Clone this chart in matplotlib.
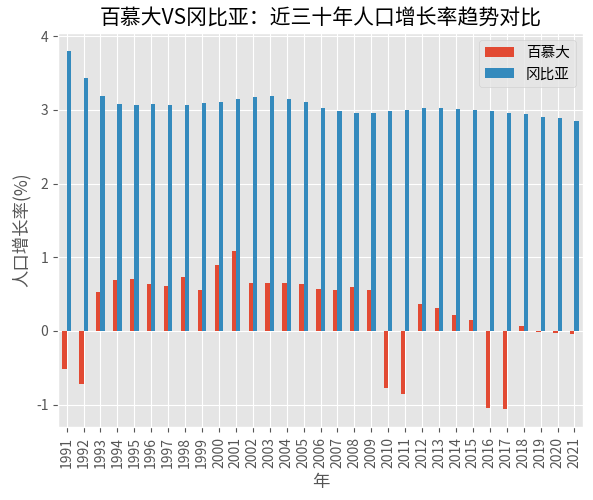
import matplotlib
matplotlib.use("Agg")
import matplotlib.pyplot as plt
import pandas as pd

plt.style.use("ggplot")
plt.rcParams['font.family'] = ['Noto Sans CJK SC', 'DejaVu Sans']
plt.rcParams['axes.unicode_minus'] = False

years = list(range(1991, 2022))
bermuda = [-0.51, -0.72, 0.53, 0.69, 0.71, 0.64, 0.61, 0.73, 0.55, 0.89,
           1.08, 0.65, 0.65, 0.65, 0.64, 0.57, 0.56, 0.59, 0.55, -0.78,
           -0.86, 0.36, 0.31, 0.21, 0.15, -1.05, -1.06, 0.07, -0.01, -0.03,
           -0.045]
gambia = [3.80, 3.43, 3.19, 3.08, 3.07, 3.08, 3.07, 3.07, 3.09, 3.11,
          3.15, 3.18, 3.19, 3.15, 3.10, 3.03, 2.99, 2.96, 2.96, 2.99,
          3.00, 3.02, 3.02, 3.01, 3.00, 2.98, 2.96, 2.94, 2.91, 2.89,
          2.85]

df = pd.DataFrame({'百慕大': bermuda, '冈比亚': gambia}, index=years)

fig = plt.figure(figsize=(5.93, 5.00), dpi=100)
ax = fig.add_axes([0.098, 0.146, 0.885, 0.788])
df.plot.bar(ax=ax)

ax.set_title('百慕大VS冈比亚：近三十年人口增长率趋势对比', fontsize=15)
ax.set_xlabel('年', fontsize=12.5)
ax.set_ylabel('人口增长率(%)', fontsize=12.5)
ax.legend(loc='upper right', fontsize=10.5)

fig.savefig('out.png', dpi=100)
